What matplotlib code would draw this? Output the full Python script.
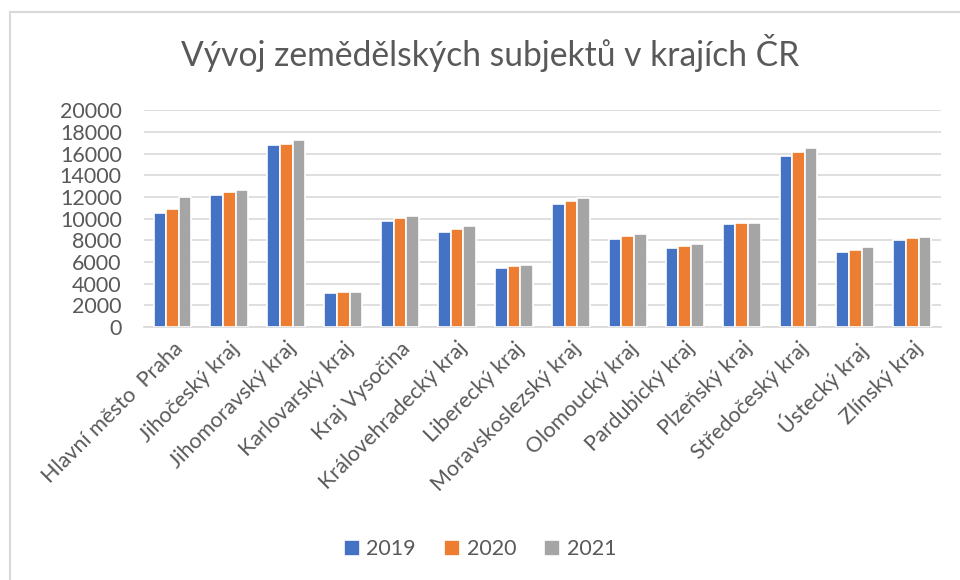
import numpy as np
import matplotlib
matplotlib.use('Agg')
import matplotlib.pyplot as plt
from matplotlib.lines import Line2D

plt.rcParams['font.family'] = ['Lato', 'DejaVu Sans']

regions = ['Hlavní město  Praha', 'Jihočeský kraj', 'Jihomoravský kraj',
           'Karlovarský kraj', 'Kraj Vysočina', 'Královehradecký kraj',
           'Liberecký kraj', 'Moravskoslezský kraj', 'Olomoucký kraj',
           'Pardubický kraj', 'Plzeňský kraj', 'Středočeský kraj',
           'Ústecký kraj', 'Zlínský kraj']
years = ['2019', '2020', '2021']
v2019 = [10480, 12200, 16770, 3170, 9770, 8760, 5440, 11310, 8150, 7280, 9530, 15760, 6910, 7990]
v2020 = [10880, 12420, 16900, 3260, 10050, 9070, 5590, 11590, 8360, 7470, 9620, 16160, 7100, 8180]
v2021 = [11980, 12600, 17270, 3260, 10270, 9310, 5690, 11860, 8570, 7690, 9590, 16530, 7370, 8290]
yticks = list(range(0, 20001, 2000))

colors = ['#4472C4', '#ED7D31', '#A5A5A5']
text_color = '#595959'

fig = plt.figure(figsize=(9.6, 5.8), dpi=100)
ax = fig.add_axes([0.15, 0.436, 0.83, 0.374])

# chart border (only top and left edges visible in the crop)
W, H = 960, 580
fig.add_artist(Line2D([10 / W, 1], [1 - 12 / H] * 2, transform=fig.transFigure,
                      color='#d9d9d9', linewidth=1.5))
fig.add_artist(Line2D([10 / W] * 2, [0, 1 - 12 / H], transform=fig.transFigure,
                      color='#d9d9d9', linewidth=1.5))

x = np.arange(len(regions))
pitch = 0.222
for i, (vals, lab) in enumerate(zip([v2019, v2020, v2021], years)):
    ax.bar(x + (i - 1) * pitch, vals, width=pitch, color=colors[i],
           edgecolor='white', linewidth=1.2, label=lab, zorder=3)

ax.set_xlim(-0.5, len(regions) - 0.5)
ax.set_ylim(0, 20000)
ax.set_yticks(yticks)
ax.set_yticklabels([str(t) for t in yticks])
ax.yaxis.grid(True, color='#d9d9d9', linewidth=1.2, zorder=0)
ax.set_axisbelow(True)
for s in ['top', 'right', 'left']:
    ax.spines[s].set_visible(False)
ax.spines['bottom'].set_color('#d9d9d9')
ax.spines['bottom'].set_linewidth(1.2)
ax.tick_params(axis='both', length=0, labelsize=15.5, labelcolor=text_color)
ax.tick_params(axis='y', pad=16)
ax.tick_params(axis='x', pad=8)
ax.set_xticks(x)
ax.set_xticklabels(regions, rotation=45, ha='right', rotation_mode='anchor')

fig.text(0.511, 0.908, 'Vývoj zemědělských subjektů v krajích ČR', ha='center', va='center',
         fontsize=24.2, color=text_color)

fig.legend(loc='center', bbox_to_anchor=(0.5, 0.053), ncol=3, frameon=False,
           fontsize=15.5, labelcolor=text_color, handlelength=0.75, handleheight=0.75,
           handletextpad=0.3, columnspacing=1.3)

fig.savefig('out.png', dpi=100)
